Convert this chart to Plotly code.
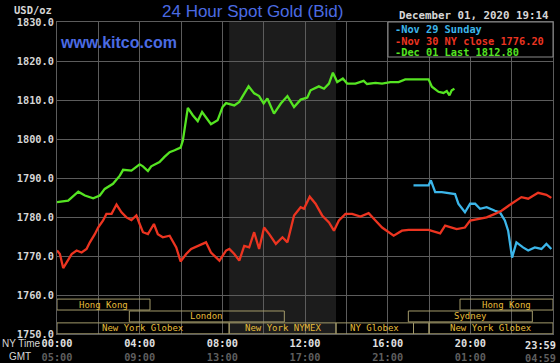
import plotly.graph_objects as go

# ---------------- data (hours since 00:00 NY time, USD/oz) ----------------
green_t = [0, 0.54, 1.03, 1.35, 1.75, 2.07, 2.31, 2.71, 3.04, 3.2,
           3.6, 4.0, 4.16, 4.4, 4.56, 4.96, 5.2, 5.45, 5.69, 5.98,
           6.09, 6.33, 6.57, 6.81, 7.02, 7.45, 7.77, 8.01, 8.18, 8.58,
           8.82, 9.27, 9.54, 9.78, 10.0, 10.18, 10.5, 10.83, 11.15, 11.47,
           11.79, 12.11, 12.27, 12.67, 12.92, 13.16, 13.35, 13.56, 13.83, 14.04,
           14.44, 14.84, 15.0, 15.41, 15.73, 16.13, 16.53, 16.85, 17.98, 18.14,
           18.46, 18.7, 18.86, 18.99, 19.1, 19.23]
green_p = [1783.8, 1784.2, 1786.5, 1785.5, 1784.8, 1785.5, 1787.2, 1788.5, 1790.6, 1792.1,
           1791.9, 1793.5, 1793.0, 1791.8, 1793.0, 1794.1, 1795.4, 1796.6, 1797.1, 1797.8,
           1799.6, 1808.0, 1806.1, 1804.6, 1806.9, 1803.8, 1804.8, 1808.2, 1809.2, 1808.6,
           1809.5, 1813.5, 1811.7, 1811.0, 1809.1, 1810.4, 1806.5, 1809.1, 1811.0, 1808.2,
           1810.1, 1810.6, 1812.5, 1813.5, 1812.9, 1814.2, 1817.0, 1814.6, 1815.5, 1814.2,
           1814.2, 1814.9, 1814.1, 1814.4, 1814.2, 1814.6, 1814.6, 1815.3, 1815.3, 1813.4,
           1812.1, 1811.8, 1812.3, 1811.2, 1812.5, 1812.9]

red_t = [0, 0.14, 0.3, 0.47, 0.71, 0.95, 1.19, 1.43, 1.59, 1.83,
         1.99, 2.23, 2.39, 2.64, 2.88, 3.12, 3.36, 3.6, 3.84, 4.0,
         4.16, 4.4, 4.69, 4.88, 5.12, 5.45, 5.77, 5.98, 6.25, 6.49,
         6.81, 7.21, 7.45, 7.86, 8.18, 8.34, 8.58, 8.82, 9.06, 9.3,
         9.54, 9.78, 10.02, 10.27, 10.59, 10.91, 11.15, 11.47, 11.79, 11.95,
         12.23, 12.51, 12.83, 13.16, 13.4, 13.64, 13.96, 14.28, 14.68, 15.08,
         15.41, 15.73, 16.29, 16.69, 17.01, 17.98, 18.54, 18.78, 19.34, 19.74,
         19.99, 20.39, 20.79, 21.19, 21.51, 21.99, 22.47, 22.8, 23.28, 23.68,
         23.92]
red_p = [1771.4, 1770.5, 1766.9, 1768.3, 1770.5, 1771.4, 1770.9, 1771.8, 1773.5, 1775.6,
         1777.3, 1779.1, 1780.8, 1780.8, 1783.2, 1781.2, 1779.9, 1779.2, 1780.4, 1778.2,
         1776.1, 1775.6, 1778.2, 1775.6, 1774.8, 1775.2, 1772.2, 1768.6, 1770.5, 1771.8,
         1772.6, 1773.5, 1770.9, 1768.8, 1771.4, 1771.8, 1770.5, 1768.8, 1772.6, 1772.2,
         1776.1, 1771.8, 1777.3, 1775.6, 1773.1, 1774.8, 1773.5, 1780.4, 1782.5, 1782.1,
         1785.2, 1783.4, 1780.4, 1778.6, 1776.5, 1779.1, 1780.8, 1780.8, 1780.1, 1781.0,
         1779.1, 1777.3, 1775.2, 1776.5, 1776.7, 1776.7, 1775.8, 1777.8, 1776.9, 1777.3,
         1779.1, 1779.5, 1779.9, 1780.8, 1781.6, 1783.4, 1785.1, 1784.7, 1786.2, 1785.7,
         1784.9]

blue_t = [17.25, 17.98, 18.09, 18.3, 18.62, 19.26, 19.42, 19.74, 19.99, 20.23,
          20.47, 20.79, 21.19, 21.43, 21.67, 21.83, 22.02, 22.23, 22.55, 22.8,
          23.12, 23.44, 23.68, 23.92]
blue_p = [1788.1, 1788.1, 1789.4, 1786.4, 1786.4, 1785.9, 1783.4, 1781.2, 1783.4, 1783.4,
          1782.1, 1782.5, 1781.6, 1781.2, 1779.1, 1776.5, 1769.6, 1773.5, 1772.2, 1771.4,
          1772.2, 1771.8, 1773.1, 1771.8]

legend_labels = ["-Nov 29 Sunday", "-Nov 30 NY close 1776.20", "-Dec 01 Last 1812.80"]

tick_hours = [0, 2, 4, 6, 8, 10, 12, 14, 16, 18, 20, 22, 24]
ny_labels = ["00:00", "", "04:00", "", "08:00", "", "12:00", "", "16:00", "", "20:00", "", ""]
gmt_labels = ["05:00", "", "09:00", "", "13:00", "", "17:00", "", "21:00", "", "01:00", "", ""]
last_ny, last_gmt = "23:59", "04:59"

# session rows: 0 = bottom row, 2 = top row
sessions = [
    ("Hong Kong", 0.0, 4.5, 2),
    ("Hong Kong", 19.5, 24.0, 2),
    ("London", 3.5, 11.0, 1),
    ("Sydney", 17.0, 23.0, 1),
    ("New York Globex", 0.0, 8.33, 0),
    ("New York NYMEX", 8.33, 13.5, 0),
    ("NY Globex", 13.5, 17.25, 0),
    ("", 17.25, 18.0, 0),
    ("New York Globex", 18.0, 24.0, 0),
]
nymex_open, nymex_close = 8.33, 13.5

# ---------------- styling ----------------
W, H = 560, 363
L, R, T, B = 57, 7, 22, 29
PW, PH = W - L - R, H - T - B
GRID = "#5c5c5c"
BLUE_T = "#4b6be3"
C_BLUE, C_RED, C_GREEN = "#3cb6ea", "#ec3420", "#55e422"
MONO = "DejaVu Sans Mono"


def px_x(px):
    return (px - L) / PW


def px_y(py):
    return (H - B - py) / PH


fig = go.Figure()
for t, p, c in [(blue_t, blue_p, C_BLUE), (red_t, red_p, C_RED), (green_t, green_p, C_GREEN)]:
    fig.add_trace(go.Scatter(x=t, y=p, mode="lines", line=dict(color=c, width=2.3), hoverinfo="skip"))

ticktext = [
    (f"{a}<br><span style='color:#5e5e5e'>{b}</span>" if a else "")
    for a, b in zip(ny_labels, gmt_labels)
]

shapes = [
    dict(type="rect", xref="x", yref="paper", x0=nymex_open, x1=nymex_close, y0=0, y1=1,
         fillcolor="#1c1c1c", line=dict(width=0), layer="below"),
]
annotations = []
for name, a, b, row in sessions:
    y0 = 1750.05 + row * 3.05
    y1 = y0 + 2.8
    shapes.append(dict(type="rect", xref="x", yref="y", x0=a, x1=b, y0=y0, y1=y1,
                       line=dict(color="#a39a6a", width=1), fillcolor="rgba(0,0,0,0)", layer="above"))
    if name:
        annotations.append(dict(x=(a + b) / 2, y=(y0 + y1) / 2, xref="x", yref="y", text=name,
                                showarrow=False, font=dict(family=MONO, size=9, color="#e6bd3a")))

# legend box
shapes.append(dict(type="rect", xref="paper", yref="paper", x0=px_x(388), x1=1, y0=px_y(57), y1=1,
                   fillcolor="black", line=dict(color="#8a8a8a", width=1), layer="above"))
for i, (lab, c) in enumerate(zip(legend_labels, [C_BLUE, C_RED, C_GREEN])):
    annotations.append(dict(x=px_x(393), y=px_y(29 + i * 11.6), xref="paper", yref="paper",
                            xanchor="left", yanchor="middle", text=lab, showarrow=False,
                            font=dict(family=MONO, size=10.3, color=c, weight="bold")))

# text decorations
annotations += [
    dict(x=px_x(58), y=px_y(43), xref="paper", yref="paper", xanchor="left", yanchor="middle",
         text="www.kitco.com", showarrow=False,
         font=dict(family="Liberation Sans", size=16, color=BLUE_T, weight="bold")),
    dict(x=px_x(54), y=px_y(10), xref="paper", yref="paper", xanchor="right", yanchor="middle",
         text="USD/oz", showarrow=False, font=dict(family=MONO, size=10.5, color="#d6d6d6", weight="bold")),
    dict(x=px_x(551), y=px_y(15.5), xref="paper", yref="paper", xanchor="right", yanchor="middle",
         text="December 01, 2020 19:14", showarrow=False,
         font=dict(family=MONO, size=10.8, color="#d6d6d6", weight="bold")),
    dict(x=px_x(252), y=px_y(12), xref="paper", yref="paper", xanchor="center", yanchor="middle",
         text="24 Hour Spot Gold (Bid)", showarrow=False,
         font=dict(family="Liberation Sans", size=17, color=BLUE_T)),
    dict(x=px_x(0), y=px_y(344), xref="paper", yref="paper", xanchor="left", yanchor="middle",
         text="NY Time", showarrow=False, font=dict(family="Liberation Sans", size=10, color="#d6d6d6")),
    dict(x=px_x(7), y=px_y(356), xref="paper", yref="paper", xanchor="left", yanchor="middle",
         text="GMT", showarrow=False, font=dict(family="Liberation Sans", size=10, color="#d6d6d6")),
    dict(x=24, y=px_y(337), xref="x", yref="paper", xanchor="right", yanchor="top", xshift=5,
         text=f"{last_ny}<br><span style='color:#5e5e5e'>{last_gmt}</span>", showarrow=False,
         align="right", font=dict(family=MONO, size=10.3, color="#e0e0e0", weight="bold")),
]

fig.update_layout(
    width=W, height=H,
    margin=dict(l=L, r=R, t=T, b=B, pad=0, autoexpand=False),
    paper_bgcolor="black", plot_bgcolor="black",
    showlegend=False,
    hovermode=False,
    xaxis=dict(range=[0, 24], tickmode="array", tickvals=tick_hours, ticktext=ticktext,
               showgrid=True, gridcolor=GRID, gridwidth=1, zeroline=False, automargin=False,
               showline=True, linecolor=GRID, mirror=True, ticks="",
               tickfont=dict(family=MONO, size=10.3, color="#e0e0e0", weight="bold")),
    yaxis=dict(range=[1750, 1830], dtick=10, tickformat=".1f", automargin=False,
               showgrid=True, gridcolor=GRID, gridwidth=1, zeroline=False,
               showline=True, linecolor=GRID, mirror=True, ticks="",
               tickfont=dict(family=MONO, size=10.3, color="#d6d6d6", weight="bold")),
    shapes=shapes,
    annotations=annotations,
)

fig.write_html(
    "out.html",
    config={"displayModeBar": False, "staticPlot": True},
    post_script="document.body.style.margin='0';document.body.style.background='black';",
)
